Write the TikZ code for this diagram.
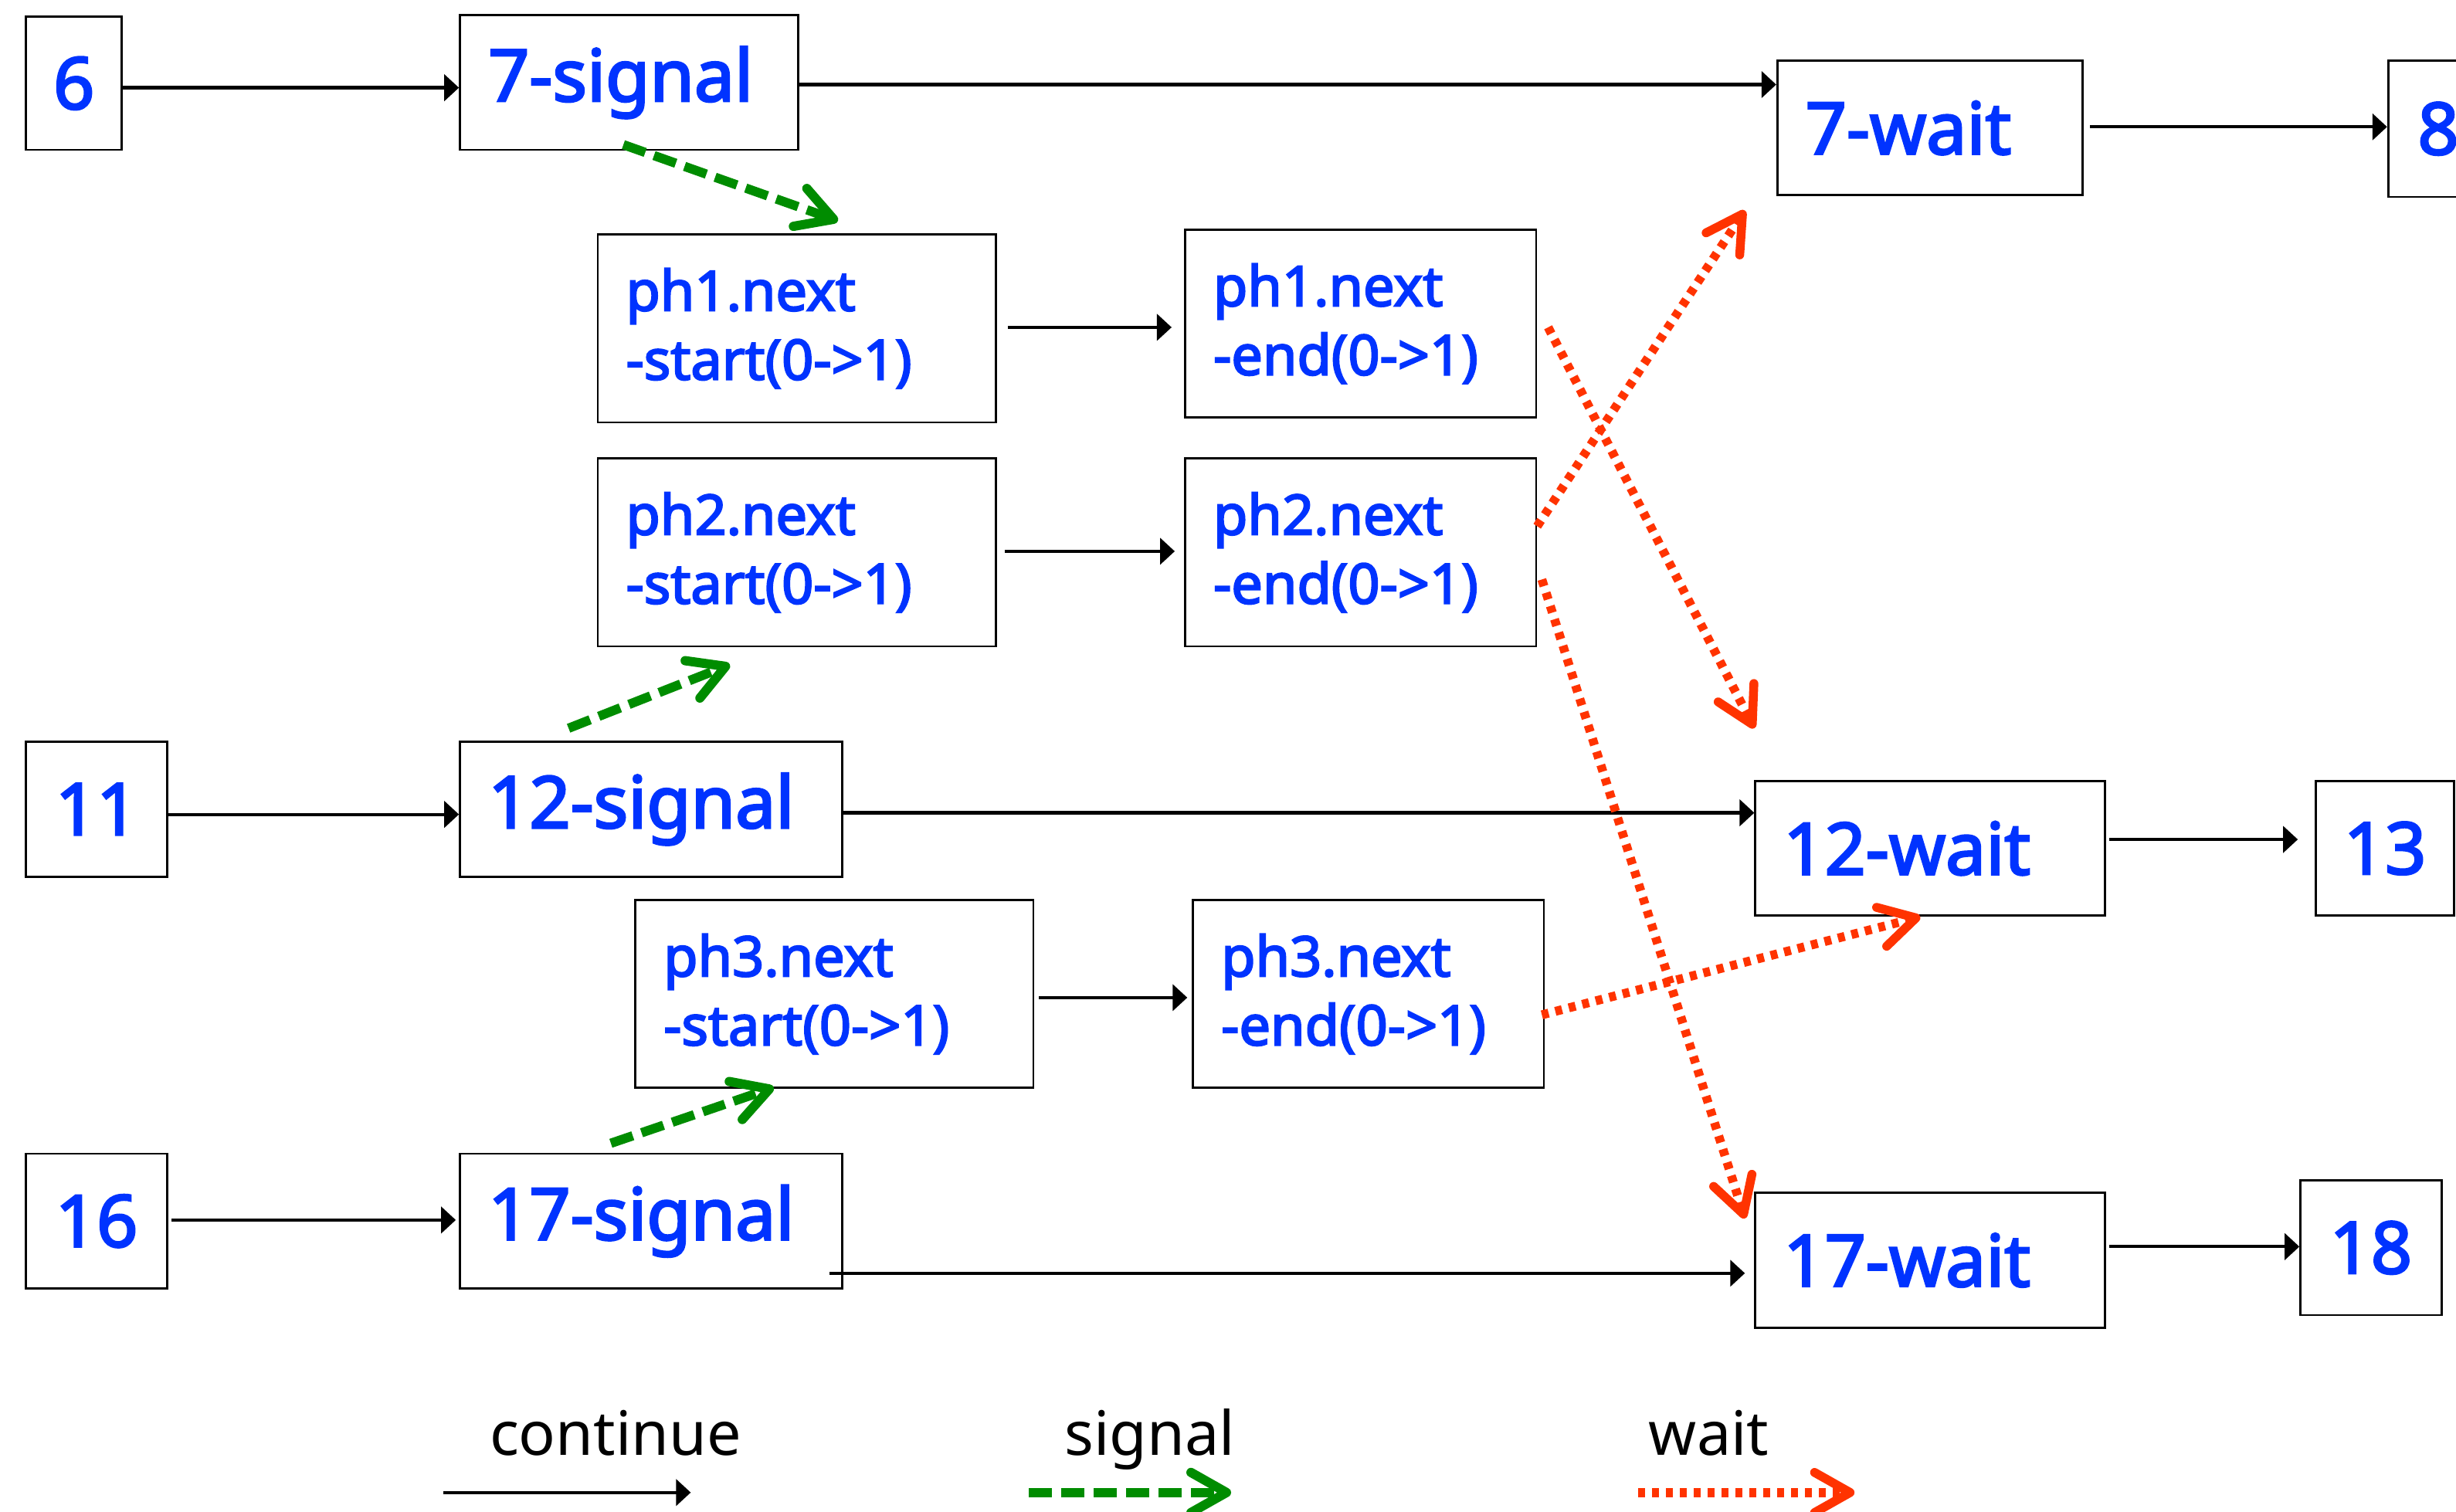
\documentclass[tikz,border=0pt]{standalone}
\usepackage{fontspec}
\setmainfont{Noto Sans}
\newfontfamily\lblfont{Noto Sans}[FakeBold=3]
\usetikzlibrary{arrows.meta,calc}
\definecolor{lblblue}{RGB}{0,51,255}
\definecolor{siggreen}{RGB}{0,140,0}
\definecolor{waitred}{RGB}{255,51,0}
\newcommand\pxu{0.020281cm}
\begin{document}
\begin{tikzpicture}[x=0.020281cm,y=-0.020281cm,
  every node/.style={inner sep=0pt},
  frame/.style={draw=black,line width=0.028cm,anchor=north west,text=lblblue},
  big/.style={font=\lblfont\fontsize{26.5}{30}\selectfont},
  small/.style={font=\lblfont\fontsize{20.5}{25.4}\selectfont},
  lbox/.style 2 args={frame,align=left,inner xsep=18*\pxu,inner ysep=0pt,
     text width={(#1-36)*\pxu},minimum height={#2*\pxu}},
  nbox/.style 2 args={frame,big,minimum width={#1*\pxu},minimum height={#2*\pxu}},
  cont/.style={draw=black,line width=0.042cm,-{Triangle[length=0.19cm,width=0.34cm]}},
  sig/.style={draw=siggreen,line width=0.12cm,dash pattern=on 0.3cm off 0.12cm,
     -{Straight Barb[length=0.46cm,width=0.52cm,round]}},
  wt/.style={draw=waitred,line width=0.115cm,dash pattern=on 0.09cm off 0.09cm,
     -{Straight Barb[length=0.46cm,width=0.52cm,round]}},
  legtext/.style={font=\fontsize{22.5}{26}\selectfont,text=black,anchor=base}
]
\useasboundingbox (0,0) rectangle (1568,965);
\clip (0,0) rectangle (1568,965);

% boxes
\node[nbox={61}{85}] (n6) at (16,10) {6};
\node[lbox={216}{86},big] (s7) at (293,9) {7-signal};
\node[lbox={195}{86},big] (w7) at (1134,38) {7-wait};
\node[nbox={64}{87}] (n8) at (1524,38) {8};
\node[lbox={254}{120},small] (p1s) at (381,149) {ph1.next\\-start(0->1)};
\node[lbox={224}{120},small] (p1e) at (756,146) {ph1.next\\-end(0->1)};
\node[lbox={254}{120},small] (p2s) at (381,292) {ph2.next\\-start(0->1)};
\node[lbox={224}{120},small] (p2e) at (756,292) {ph2.next\\-end(0->1)};
\node[nbox={90}{86}] (n11) at (16,473) {11};
\node[lbox={244}{86},big] (s12) at (293,473) {12-signal};
\node[lbox={223}{86},big] (w12) at (1120,498) {12-wait};
\node[nbox={88}{86}] (n13) at (1478,498) {13};
\node[lbox={254}{120},small] (p3s) at (405,574) {ph3.next\\-start(0->1)};
\node[lbox={224}{120},small] (p3e) at (761,574) {ph3.next\\-end(0->1)};
\node[nbox={90}{86}] (n16) at (16,736) {16};
\node[lbox={244}{86},big] (s17) at (293,736) {17-signal};
\node[lbox={223}{86},big] (w17) at (1120,761) {17-wait};
\node[nbox={90}{86}] (n18) at (1468,753) {18};

% continue arrows
\draw[cont] (n6.east |- 0,56) -- (s7.west |- 0,56);
\draw[cont] (s7.east |- 0,54) -- (w7.west |- 0,54);
\draw[cont,shorten <=4*\pxu] (w7.east |- 0,81) -- (n8.west |- 0,81);
\draw[cont,shorten <=7*\pxu,shorten >=8*\pxu] (p1s.east |- 0,209) -- (p1e.west |- 0,209);
\draw[cont,shorten <=5*\pxu,shorten >=6*\pxu] (p2s.east |- 0,352) -- (p2e.west |- 0,352);
\draw[cont,shorten <=3*\pxu,shorten >=3*\pxu] (p3s.east |- 0,637) -- (p3e.west |- 0,637);
\draw[cont] (n11.east |- 0,520) -- (s12.west |- 0,520);
\draw[cont] (s12.east |- 0,519) -- (w12.west |- 0,519);
\draw[cont,shorten <=2*\pxu,shorten >=11*\pxu] (w12.east |- 0,536) -- (n13.west |- 0,536);
\draw[cont,shorten <=2*\pxu,shorten >=2*\pxu] (n16.east |- 0,779) -- (s17.west |- 0,779);
\draw[cont,shorten <=-9*\pxu,shorten >=6*\pxu] (s17.east |- 0,813) -- (w17.west |- 0,813);
\draw[cont,shorten <=2*\pxu] (w17.east |- 0,796) -- (n18.west |- 0,796);

% signal arrows
\draw[sig] ($(s7.south west)+(105,-4)$) -- ($(p1s.north west)+(154,-8)$);
\draw[sig] ($(s12.north west)+(70,-8)$) -- ($(p2s.south west)+(85,11)$);
\draw[sig] ($(s17.north west)+(97,-6)$) -- ($(p3s.south west)+(89,-1)$);

% wait arrows
\draw[wt] ($(p2e.north east)+(0,44)$) -- ($(w7.south west)+(-20,9)$);
\draw[wt] ($(p1e.north east)+(7,63)$) -- ($(w12.north west)+(0,-33)$);
\draw[wt] ($(p2e.north east)+(3,78)$) -- ($(w17.north west)+(-6,17)$);
\draw[wt] ($(p3e.north east)+(-2,74)$) -- ($(w12.south west)+(106,0)$);

% legend
\node[legtext] (lt1) at (393,929) {continue};
\node[legtext] (lt2) at (734,929) {signal};
\node[legtext] (lt3) at (1091,929) {wait};
\coordinate (la1) at (283,953); \coordinate (lb1) at (441,953);
\coordinate (la2) at (657,953); \coordinate (lb2) at (786,953);
\coordinate (la3) at (1046,953); \coordinate (lb3) at (1184,953);
\draw[cont] (la1) -- (lb1);
\draw[sig] (la2) -- (lb2);
\draw[wt] (la3) -- (lb3);
\end{tikzpicture}
\end{document}
